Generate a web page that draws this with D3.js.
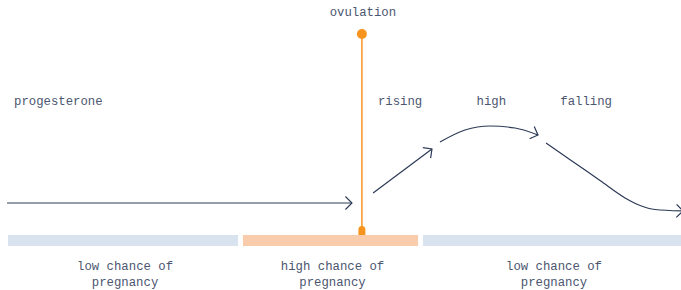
<!DOCTYPE html>
<html>
<head>
<meta charset="utf-8">
<script src="https://cdn.jsdelivr.net/npm/d3@7"></script>
<style>
  body { margin: 0; background: #fff; }
  text { font-family: "Liberation Mono", "DejaVu Sans Mono", monospace; font-size: 12.3px; fill: #4b5670; }
</style>
</head>
<body>
<div id="chart"></div>
<script>
// cycle day positions (0..28) and progesterone level (arbitrary 0..120)
const ovulationDay = 14.88;
const phaseNames = ["low chance of|pregnancy", "high chance of|pregnancy", "low chance of|pregnancy"];
const phaseStart = [0.33, 9.99, 17.39];
const phaseEnd = [9.79, 17.19, 28.2];
const phaseKind = ["low", "high", "low"];

const segBefore = [[0.29, 27], [14.47, 27]];
const segRising = [[15.34, 37], [17.76, 81]];
const segHigh = [[18.09, 88], [19.12, 100], [20.15, 104], [21.18, 102], [22.12, 95]];
const segFalling = [[22.45, 87], [23.44, 70.3], [24.67, 49.5], [25.7, 32.1], [26.32, 24.5], [26.93, 20.5], [28.08, 19]];

const stageLabels = ["rising", "high", "falling"];
const stageDay = [16.45, 20.2, 24.1];

const width = 681, height = 290;
const svg = d3.select("#chart").append("svg").attr("width", width).attr("height", height);

const x = d3.scaleLinear().domain([0, 28]).range([0, width]);
const y = d3.scaleLinear().domain([0, 120]).range([230, 110]);

const navy = "#2c3a56";
const orange = "#f7941d";

svg.append("defs").append("marker")
  .attr("id", "arr")
  .attr("markerUnits", "userSpaceOnUse")
  .attr("viewBox", "-8 -8 10 16")
  .attr("markerWidth", 10).attr("markerHeight", 16)
  .attr("refX", 0).attr("refY", 0)
  .attr("orient", "auto")
  .append("path")
  .attr("d", "M-6.5,-6.5L0,0L-6.5,6.5")
  .attr("fill", "none").attr("stroke", navy).attr("stroke-width", 1.2);

// phase bars
const barTop = 235, barH = 11;
svg.selectAll("rect.phase").data(phaseStart).enter().append("rect")
  .attr("class", "phase")
  .attr("x", (d) => x(d))
  .attr("y", barTop)
  .attr("width", (d, i) => x(phaseEnd[i]) - x(d))
  .attr("height", barH)
  .attr("fill", (d, i) => phaseKind[i] == "high" ? "#f9cdab" : "#d9e2ef");

// phase labels
phaseNames.forEach((n, i) => {
  const cx = (x(phaseStart[i]) + x(Math.min(phaseEnd[i], 28))) / 2 + 2;
  const t = svg.append("text").attr("text-anchor", "middle").attr("x", cx).attr("y", 270);
  n.split("|").forEach((s, j) => {
    t.append("tspan").attr("x", cx).attr("dy", j ? 16 : 0).text(s);
  });
});

// ovulation marker
const ox = x(ovulationDay);
svg.append("line")
  .attr("x1", ox).attr("x2", ox).attr("y1", 34).attr("y2", 232)
  .attr("stroke", orange).attr("stroke-width", 1.5);
svg.append("circle").attr("cx", ox).attr("cy", 34).attr("r", 5).attr("fill", orange);
svg.append("path")
  .attr("d", `M${ox - 3.5},${barTop}V229.5A3.5,3.5 0 0 1 ${ox + 3.5},229.5V${barTop}Z`)
  .attr("fill", orange);
svg.append("text").attr("text-anchor", "middle").attr("x", ox + 1).attr("y", 16).text("ovulation");

// progesterone curve pieces
const line = d3.line().x((d) => x(d[0])).y((d) => y(d[1])).curve(d3.curveMonotoneX);
[segBefore, segRising, segHigh, segFalling].forEach((seg) => {
  svg.append("path")
    .attr("d", line(seg))
    .attr("fill", "none")
    .attr("stroke", navy)
    .attr("stroke-width", 1.2)
    .attr("marker-end", "url(#arr)");
});

svg.append("text").attr("x", 14).attr("y", 105).text("progesterone");
svg.selectAll("text.stage").data(stageLabels).enter().append("text")
  .attr("class", "stage")
  .attr("text-anchor", "middle")
  .attr("x", (d, i) => x(stageDay[i]))
  .attr("y", 105)
  .text((d) => d);
</script>
</body>
</html>
